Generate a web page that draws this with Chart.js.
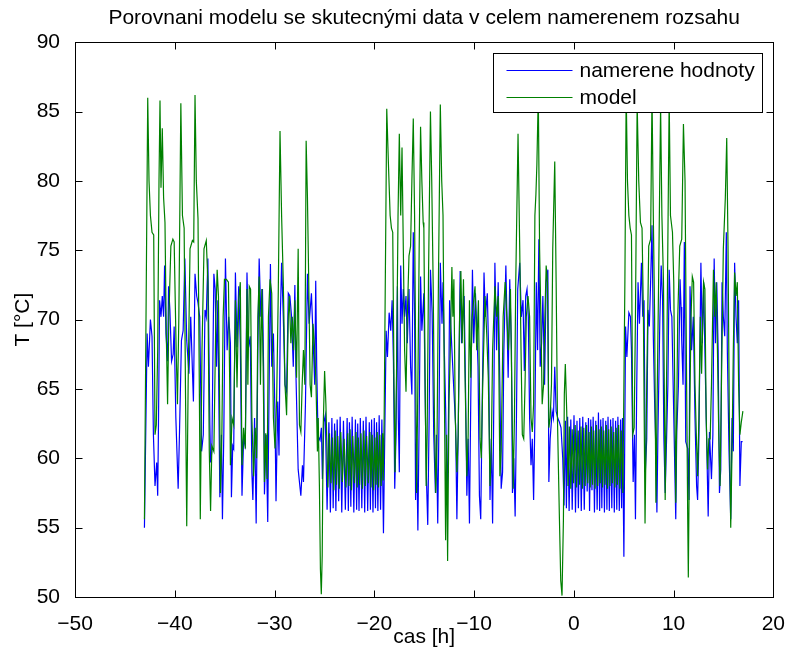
<!DOCTYPE html>
<html>
<head>
<meta charset="utf-8">
<title>Porovnani modelu</title>
<script src="https://cdn.jsdelivr.net/npm/chart.js@4.4.1/dist/chart.umd.min.js"></script>
<style>
  html, body { margin: 0; padding: 0; background: #fff; }
  #wrap { width: 792px; height: 655px; }
</style>
</head>
<body>
<div id="wrap"><canvas id="myChart" width="792" height="655"></canvas></div>
<script>
const chartTitle = "Porovnani modelu se skutecnými data v celem namerenem rozsahu";
const xLabel = "cas [h]";
const yLabel = "T [°C]";
const seriesNames = ["namerene hodnoty", "model"];

const xTicks = [-50, -40, -30, -20, -10, 0, 10, 20];
const yTicks = [50, 55, 60, 65, 70, 75, 80, 85, 90];

// measured temperature [h] / [°C]
const measuredHours = [
  -43.04, -42.77, -42.64, -42.44, -42.28, -42.14, -41.98, -41.81, -41.71, -41.65,
  -41.52, -41.38, -41.25, -41.12, -41.02, -40.88, -40.72, -40.62, -40.49, -40.32,
  -40.16, -40.06, -39.89, -39.66, -39.53, -39.33, -39.16, -38.99, -38.80, -38.58,
  -38.40, -38.13, -37.97, -37.80, -37.67, -37.50, -37.31, -37.14, -36.97, -36.84,
  -36.68, -36.48, -36.41, -36.28, -36.08, -35.95, -35.81, -35.68, -35.48, -35.32,
  -35.22, -35.08, -34.92, -34.75, -34.59, -34.42, -34.32, -34.19, -34.09, -33.92,
  -33.76, -33.59, -33.43, -33.26, -33.10, -32.93, -32.76, -32.60, -32.43, -32.27,
  -32.17, -32.00, -31.84, -31.67, -31.54, -31.37, -31.21, -31.07, -31.01, -30.84,
  -30.68, -30.54, -30.41, -30.28, -30.11, -29.95, -29.85, -29.68, -29.55, -29.42,
  -29.29, -29.12, -28.95, -28.79, -28.62, -28.46, -28.29, -28.12, -27.96, -27.86,
  -27.63, -27.36, -27.20, -27.10, -26.90, -26.70, -26.53, -26.30, -26.14, -25.97,
  -25.87, -25.77, -25.64, -25.44, -25.30, -25.20, -25.05,
  // idle period 1
  -24.91, -24.73, -24.55, -24.40, -24.25, -24.12, -23.98, -23.85,
  -23.72, -23.57, -23.42, -23.26, -23.09, -22.90, -22.72, -22.60,
  -22.49, -22.35, -22.22, -22.05, -21.89, -21.77, -21.66, -21.53,
  -21.40, -21.25, -21.10, -20.96, -20.83, -20.66, -20.50, -20.39,
  -20.27, -20.13, -20.00, -19.88, -19.77, -19.64, -19.51, -19.37,
  -19.24,
  -19.08, -18.81, -18.68, -18.51, -18.35, -18.21, -18.08, -17.95, -17.82, -17.68,
  -17.59, -17.49, -17.35, -17.22, -17.09, -16.96, -16.82, -16.69, -16.52, -16.36,
  -16.23, -16.09, -15.96, -15.86, -15.76, -15.63, -15.50, -15.36, -15.23, -15.03,
  -14.87, -14.77, -14.64, -14.50, -14.37, -14.20, -14.04, -13.87, -13.77, -13.64,
  -13.51, -13.38, -13.21, -13.11, -12.98, -12.84, -12.71, -12.58, -12.45, -12.28,
  -12.05, -11.85, -11.72, -11.59, -11.39, -11.25, -11.12, -10.99, -10.86, -10.72,
  -10.59, -10.46, -10.33, -10.16, -10.03, -9.86, -9.73, -9.60, -9.46, -9.33,
  -9.20, -9.00, -8.87, -8.67, -8.54, -8.40, -8.27, -8.14, -8.00, -7.91,
  -7.74, -7.58, -7.41, -7.28, -7.14, -7.01, -6.81, -6.58, -6.42, -6.25,
  -6.15, -6.02, -5.88, -5.75, -5.62, -5.42, -5.26, -5.09, -4.96, -4.82,
  -4.69, -4.56, -4.43, -4.29, -4.16, -4.03, -3.90, -3.76, -3.63, -3.50,
  -3.37, -3.23, -3.10, -2.93, -2.77, -2.60, -2.50, -2.37, -2.17, -2.04,
  -1.91, -1.77, -1.61, -1.44, -1.28, -1.11,
  // idle period 2
  -0.98, -0.84, -0.74, -0.62, -0.47, -0.30, -0.16, 0.02,
  0.17, 0.32, 0.46, 0.60, 0.75, 0.90, 1.05, 1.20,
  1.34, 1.47, 1.58, 1.70, 1.82, 1.94, 2.07, 2.20,
  2.34, 2.47, 2.59, 2.70, 2.81, 2.93, 3.07, 3.20,
  3.32, 3.43, 3.56, 3.69, 3.81, 3.93, 4.06, 4.19,
  4.31, 4.42, 4.56, 4.69, 4.79, 4.88,
  5.02, 5.19, 5.32, 5.52, 5.68, 5.78, 5.95, 6.08, 6.18, 6.31,
  6.44, 6.58, 6.78, 6.91, 7.04, 7.17, 7.31, 7.44, 7.57, 7.70,
  7.84, 7.97, 8.10, 8.23, 8.33, 8.43, 8.63, 8.76, 8.90, 9.03,
  9.16, 9.30, 9.43, 9.56, 9.69, 9.83, 9.96, 10.09, 10.22, 10.32,
  10.49, 10.65, 10.75, 10.82, 10.95, 11.08, 11.22, 11.42, 11.55, 11.65,
  11.81, 11.98, 12.15, 12.31, 12.41, 12.54, 12.74, 12.88, 13.01, 13.14,
  13.34, 13.47, 13.60, 13.80, 13.94, 14.07, 14.20, 14.33, 14.47, 14.60,
  14.73, 14.86, 14.99, 15.13, 15.29, 15.39, 15.56, 15.73, 15.86, 15.99,
  16.12, 16.26, 16.39, 16.52, 16.65, 16.79, 16.92
];
const measuredTemp = [
  55.0, 69.0, 66.6, 70.0, 68.8, 61.7, 58.0, 59.7, 57.3, 61.2,
  71.4, 70.2, 71.7, 70.2, 73.9, 69.0, 67.0, 72.4, 70.7, 67.0,
  67.5, 69.5, 62.9, 57.8, 61.7, 68.5, 69.2, 74.4, 68.5, 66.1,
  70.2, 64.1, 73.3, 71.7, 71.2, 70.2, 60.5, 61.7, 70.7, 70.2,
  74.4, 62.4, 59.7, 60.5, 73.3, 72.2, 66.6, 71.4, 57.2, 61.7,
  55.6, 61.9, 74.4, 67.8, 70.2, 68.3, 57.2, 60.9, 60.7, 73.4,
  68.0, 72.4, 68.3, 57.3, 61.4, 60.9, 73.4, 68.0, 68.8, 59.0,
  57.0, 62.9, 55.3, 67.8, 74.4, 70.2, 72.2, 65.3, 57.4, 61.7,
  55.4, 65.3, 74.0, 66.6, 69.0, 62.9, 56.9, 64.1, 60.2, 70.2,
  74.1, 70.2, 65.3, 64.8, 71.9, 71.7, 70.2, 66.6, 72.5, 66.3,
  59.2, 57.3, 59.5, 58.3, 63.9, 73.3, 69.7, 71.9, 68.8, 65.3,
  72.8, 66.6, 61.6, 61.3, 62.2, 58.5, 62.6,
  // idle period 1
  63.1, 56.3, 62.6, 56.1, 62.9, 56.4, 62.5, 56.2,
  62.8, 56.9, 63.0, 56.1, 62.7, 56.3, 62.9, 56.2,
  62.6, 56.5, 63.0, 56.1, 62.8, 56.3, 62.5, 56.2,
  62.9, 56.4, 62.7, 56.1, 63.0, 56.2, 62.6, 56.3,
  62.8, 56.1, 62.9, 56.4, 62.6, 56.2, 63.1, 56.3,
  62.8,
  54.6, 69.2, 67.3, 70.5, 69.2, 71.4, 67.0, 57.8, 61.7, 72.4,
  62.9, 59.0, 73.9, 69.7, 72.2, 70.2, 71.7, 68.3, 72.2, 66.6,
  64.6, 76.3, 70.2, 57.0, 61.4, 54.8, 62.9, 73.1, 69.2, 71.9,
  62.9, 58.5, 55.2, 62.9, 73.6, 70.5, 61.7, 57.5, 61.7, 55.3,
  62.9, 74.1, 69.7, 72.7, 67.8, 63.4, 57.0, 61.7, 71.4, 68.8,
  65.3, 62.4, 55.6, 61.7, 73.5, 68.3, 70.2, 71.7, 65.3, 57.3,
  61.4, 55.3, 64.1, 73.6, 68.3, 71.9, 69.5, 66.6, 57.3, 55.6,
  62.9, 73.4, 70.2, 71.9, 67.8, 57.0, 61.4, 55.3, 65.3, 74.1,
  67.8, 72.7, 65.3, 57.8, 59.0, 67.8, 73.9, 65.8, 72.9, 67.8,
  57.5, 60.0, 55.8, 62.9, 72.2, 74.1, 70.2, 71.4, 66.3, 71.7,
  72.2, 70.2, 62.9, 59.5, 61.4, 57.0, 62.9, 72.7, 67.8, 75.8,
  66.6, 68.3, 71.7, 65.3, 72.7, 73.6, 58.3, 61.4, 63.4, 62.9,
  66.6, 63.4, 62.9, 62.6, 62.2, 60.0,
  // idle period 2
  56.6, 62.7, 56.4, 63.0, 56.2, 62.8, 56.3, 63.1,
  56.1, 62.7, 56.4, 62.9, 56.2, 63.0, 56.3, 62.6,
  57.6, 62.9, 56.2, 62.8, 57.7, 63.0, 56.1, 62.7,
  56.3, 63.3, 56.2, 62.8, 56.4, 62.9, 56.1, 62.7,
  56.3, 63.0, 56.2, 62.8, 56.4, 62.9, 56.1, 62.7,
  56.3, 63.0, 56.2, 62.8, 56.4, 62.9,
  52.9, 69.5, 67.3, 70.5, 70.2, 67.8, 58.3, 61.7, 55.6, 65.3,
  72.7, 69.7, 74.1, 70.2, 71.4, 59.0, 61.4, 70.7, 69.5, 72.7,
  76.8, 68.8, 64.1, 60.5, 56.1, 61.7, 70.2, 73.9, 71.4, 61.4,
  57.5, 61.4, 65.3, 73.6, 70.7, 70.2, 65.3, 60.5, 55.6, 61.9,
  65.3, 72.9, 70.9, 68.5, 65.3, 75.6, 61.2, 60.7, 57.0, 72.4,
  67.8, 70.2, 62.9, 58.0, 57.0, 61.4, 74.1, 68.3, 72.7, 67.8,
  60.5, 55.8, 61.9, 58.5, 61.7, 74.4, 68.3, 72.7, 67.8, 57.5,
  59.2, 72.7, 70.2, 68.8, 76.3, 67.8, 60.5, 55.6, 62.9, 60.5,
  74.1, 70.2, 68.3, 71.4, 58.0, 61.2, 61.2
];

// model output [h] / [°C]
const modelHours = [
  -43.04, -42.71, -42.58, -42.44, -42.28, -42.11, -41.98, -41.85, -41.71, -41.58,
  -41.48, -41.38, -41.25, -41.12, -40.98, -40.85, -40.72, -40.59, -40.39, -40.19,
  -40.06, -39.86, -39.73, -39.59, -39.39, -39.23, -39.06, -38.93, -38.80, -38.66,
  -38.47, -38.23, -38.10, -37.97, -37.84, -37.67, -37.54, -37.44, -37.27, -37.07,
  -36.84, -36.68, -36.54, -36.41, -36.28, -36.08, -35.88, -35.75, -35.62, -35.52,
  -35.42, -35.28, -35.15, -35.02, -34.82, -34.62, -34.49, -34.42, -34.26, -34.09,
  -33.92, -33.76, -33.59, -33.43, -33.26, -33.10, -32.93, -32.76, -32.67, -32.53,
  -32.40, -32.27, -32.10, -31.94, -31.80, -31.67, -31.54, -31.41, -31.27, -31.14,
  -31.01, -30.88, -30.74, -30.61, -30.45, -30.28, -30.11, -29.95, -29.78, -29.62,
  -29.45, -29.29, -29.12, -28.95, -28.79, -28.62, -28.52, -28.36, -28.22, -28.09,
  -27.96, -27.79, -27.63, -27.50, -27.36, -27.23, -27.10, -26.96, -26.83, -26.70,
  -26.57, -26.43, -26.30, -26.14, -25.97, -25.84, -25.70, -25.62, -25.50, -25.40,
  -25.31, -25.22, -25.12, -24.98, -24.85,
  // idle period 1
  -24.65, -24.49, -24.34, -24.19, -24.06, -23.92, -23.79, -23.66,
  -23.51, -23.36, -23.20, -23.03, -22.84, -22.66, -22.54, -22.43,
  -22.29, -22.16, -21.99, -21.83, -21.71, -21.60, -21.47, -21.34,
  -21.19, -21.04, -20.90, -20.77, -20.60, -20.44, -20.33, -20.21,
  -20.07, -19.94, -19.82, -19.71, -19.58, -19.45, -19.31, -19.17,
  -19.10, -19.01,
  -18.75, -18.58, -18.41, -18.28, -18.15, -18.02, -17.92, -17.78, -17.62, -17.49,
  -17.35, -17.22, -17.09, -16.96, -16.82, -16.69, -16.52, -16.36, -16.23, -16.09,
  -15.96, -15.83, -15.76, -15.63, -15.50, -15.36, -15.23, -15.10, -15.03, -14.90,
  -14.80, -14.70, -14.57, -14.37, -14.24, -14.10, -13.97, -13.84, -13.71, -13.57,
  -13.38, -13.24, -13.11, -12.98, -12.85, -12.75, -12.65, -12.51, -12.38, -12.22,
  -12.12, -12.02, -11.88, -11.72, -11.59, -11.45, -11.32, -11.19, -11.06, -10.92,
  -10.72, -10.59, -10.46, -10.33, -10.19, -9.90, -9.73, -9.56, -9.40, -9.27,
  -9.13, -8.90, -8.73, -8.57, -8.40, -8.27, -8.14, -7.91, -7.74, -7.58,
  -7.41, -7.28, -7.08, -6.88, -6.55, -6.35, -6.22, -6.08, -5.95, -5.82,
  -5.59, -5.42, -5.29, -5.16, -5.02, -4.89, -4.76, -4.59, -4.43, -4.29,
  -4.16, -4.03, -3.90, -3.80, -3.70, -3.56, -3.43, -3.30, -3.17, -3.03,
  -2.90, -2.77, -2.64, -2.50, -2.37, -2.24, -2.11, -1.91, -1.77, -1.64,
  -1.44, -1.31, -1.18, -1.04, -0.95, -0.85, -0.71,
  // idle period 2
  -0.58, -0.45, -0.30, -0.16, -0.02, 0.14, 0.28, 0.44,
  0.58, 0.72, 0.86, 1.00, 1.14, 1.28, 1.40, 1.53,
  1.64, 1.76, 1.88, 2.00, 2.13, 2.27, 2.40, 2.53,
  2.65, 2.76, 2.88, 3.00, 3.13, 3.26, 3.38, 3.50,
  3.62, 3.75, 3.87, 4.00, 4.12, 4.25, 4.37, 4.49,
  4.62, 4.75, 4.92,
  5.12, 5.25, 5.38, 5.52, 5.65, 5.78, 5.91, 6.05, 6.18, 6.35,
  6.51, 6.68, 6.84, 6.98, 7.14, 7.31, 7.51, 7.70, 7.84, 7.97,
  8.10, 8.23, 8.33, 8.50, 8.70, 8.83, 8.99, 9.16, 9.33, 9.56,
  9.69, 9.89, 10.02, 10.22, 10.42, 10.62, 10.82, 10.99, 11.15, 11.28,
  11.42, 11.48, 11.62, 11.75, 11.88, 12.01, 12.15, 12.28, 12.41, 12.54,
  12.68, 12.81, 13.01, 13.14, 13.27, 13.41, 13.54, 13.67, 13.80, 14.00,
  14.13, 14.27, 14.40, 14.53, 14.66, 14.80, 14.99, 15.19, 15.33, 15.46,
  15.59, 15.73, 15.86, 15.99, 16.12, 16.26, 16.39, 16.52, 16.65, 16.79,
  16.95
];
const modelTemp = [
  55.6, 86.0, 80.0, 77.5, 76.3, 76.1, 61.7, 62.4, 67.8, 80.0,
  85.8, 79.5, 83.8, 78.8, 77.0, 69.0, 63.9, 70.2, 75.3, 75.8,
  75.6, 67.8, 63.9, 70.2, 85.6, 77.5, 76.6, 65.3, 55.1, 65.3,
  75.1, 75.7, 75.6, 86.2, 80.0, 77.3, 65.3, 55.6, 67.8, 75.1,
  75.7, 72.7, 60.5, 56.2, 60.9, 60.5, 70.2, 73.6, 71.7, 65.3,
  57.5, 61.7, 70.2, 72.9, 72.9, 72.7, 65.3, 59.5, 62.9, 62.4,
  71.4, 65.1, 71.4, 72.7, 59.5, 62.2, 60.7, 72.2, 65.3, 72.4,
  72.2, 62.9, 58.7, 62.2, 60.0, 70.2, 73.1, 65.3, 72.2, 66.6,
  58.3, 61.8, 58.5, 70.2, 72.9, 71.9, 62.9, 60.7, 64.4, 72.2,
  83.6, 77.5, 72.7, 65.3, 63.1, 70.2, 71.7, 68.3, 70.2, 67.8,
  71.4, 65.8, 75.1, 62.4, 61.9, 65.3, 67.8, 65.3, 82.9, 78.8,
  72.7, 65.3, 64.4, 69.7, 67.8, 65.3, 60.5, 62.9, 58.0, 52.0,
  50.2, 53.0, 62.2, 66.3, 63.9,
  // idle period 1
  57.9, 61.8, 58.2, 61.5, 57.7, 62.0, 58.1, 61.6,
  57.8, 61.9, 58.3, 61.4, 57.9, 61.8, 58.0, 62.1,
  57.7, 61.6, 58.2, 61.9, 57.9, 61.5, 58.1, 61.8,
  57.8, 62.0, 58.0, 61.6, 58.2, 61.9, 57.9, 61.7,
  57.7, 61.5, 58.1, 61.9, 57.9, 61.7, 58.0, 61.8,
  58.4, 62.9,
  85.2, 81.2, 77.5, 76.6, 76.3, 65.3, 59.0, 65.3, 77.5, 83.4,
  77.5, 82.4, 75.1, 67.8, 64.8, 70.2, 74.6, 75.3, 80.0, 84.5,
  77.5, 65.3, 57.5, 65.3, 75.1, 83.9, 80.0, 77.0, 76.6, 65.3,
  58.0, 61.7, 72.7, 85.0, 80.0, 72.7, 62.9, 57.5, 61.4, 72.7,
  85.5, 80.0, 77.5, 65.3, 54.1, 61.7, 52.6, 64.1, 67.8, 73.8,
  70.2, 72.9, 62.9, 59.0, 61.7, 70.2, 73.5, 68.3, 72.9, 66.6,
  58.7, 61.7, 71.4, 65.8, 70.2, 72.4, 67.8, 71.4, 61.4, 60.0,
  65.3, 71.7, 69.0, 65.8, 58.0, 60.5, 67.8, 72.4, 70.2, 71.7,
  58.7, 60.5, 70.2, 72.7, 67.8, 72.2, 65.3, 57.8, 62.9, 72.7,
  83.4, 75.1, 67.8, 61.7, 61.4, 65.3, 70.2, 71.7, 70.2, 62.9,
  61.9, 63.9, 77.5, 79.0, 81.2, 86.3, 75.1, 70.2, 63.9, 65.3,
  70.2, 73.9, 72.7, 62.2, 62.9, 65.3, 75.1, 81.4, 72.7, 62.9,
  55.6, 51.2, 50.1, 55.6, 64.6, 66.8, 63.4,
  // idle period 2
  58.0, 62.3, 57.8, 62.1, 58.2, 62.4, 57.9, 62.0,
  58.1, 62.3, 57.8, 62.2, 58.0, 62.4, 58.2, 61.9,
  57.9, 62.3, 58.1, 62.0, 57.8, 62.4, 58.0, 62.1,
  58.2, 62.3, 57.9, 62.0, 58.1, 62.4, 57.8, 62.1,
  58.0, 62.3, 58.2, 61.9, 57.9, 62.2, 58.1, 62.4,
  57.8, 62.0, 57.5,
  72.7, 86.4, 80.0, 77.5, 76.6, 76.1, 61.7, 62.2, 70.2, 85.6,
  80.0, 77.0, 76.6, 70.2, 55.3, 65.3, 75.3, 75.8, 86.3, 77.5,
  70.2, 56.8, 62.9, 72.7, 85.4, 77.5, 72.7, 57.0, 67.8, 86.0,
  77.5, 76.3, 72.7, 56.8, 70.2, 75.3, 75.8, 84.1, 80.0, 67.8,
  55.6, 51.4, 62.9, 70.2, 73.1, 72.7, 65.3, 61.7, 58.7, 62.9,
  70.2, 66.1, 72.7, 72.2, 62.9, 59.2, 61.4, 61.4, 65.3, 73.6,
  70.2, 72.7, 67.8, 61.7, 58.0, 65.3, 75.1, 78.8, 83.1, 75.1,
  62.9, 55.0, 60.5, 67.8, 73.4, 71.7, 72.7, 65.3, 61.7, 62.6,
  63.4
];

const fontFamily = "'Liberation Sans', Arial, Helvetica, sans-serif";
const baseFont = { family: fontFamily, size: 21, weight: "normal" };

function toPoints(hours, temps) {
  if (hours.length !== temps.length) {
    console.error("length mismatch", hours.length, temps.length);
  }
  return hours.map((h, i) => ({ x: h, y: temps[i] }));
}

// real minus sign like in the original figure
function tickText(value) {
  return value < 0 ? "\u2212" + Math.abs(value) : String(value);
}

// axes box with inward tick marks on all four sides
const axesBox = {
  id: "axesBox",
  afterDatasetsDraw(chart) {
    const { ctx, chartArea, scales } = chart;
    const left = Math.round(chartArea.left) + 0.5;
    const right = Math.round(chartArea.right) + 0.5;
    const top = Math.round(chartArea.top) + 0.5;
    const bottom = Math.round(chartArea.bottom) + 0.5;
    const len = 7;
    ctx.save();
    ctx.strokeStyle = "#000";
    ctx.lineWidth = 1;
    ctx.strokeRect(left, top, right - left, bottom - top);
    ctx.beginPath();
    xTicks.forEach((v) => {
      const px = Math.round(scales.x.getPixelForValue(v)) + 0.5;
      ctx.moveTo(px, bottom);
      ctx.lineTo(px, bottom - len);
      ctx.moveTo(px, top);
      ctx.lineTo(px, top + len);
    });
    yTicks.forEach((v) => {
      const py = Math.round(scales.y.getPixelForValue(v)) + 0.5;
      ctx.moveTo(left, py);
      ctx.lineTo(left + len, py);
      ctx.moveTo(right, py);
      ctx.lineTo(right - len, py);
    });
    ctx.stroke();
    ctx.restore();
  }
};

// legend box in the upper right corner of the plot
const cornerLegend = {
  id: "cornerLegend",
  afterDraw(chart) {
    const { ctx, chartArea } = chart;
    const sets = chart.data.datasets;
    ctx.save();
    ctx.font = "21px " + fontFamily;
    let textW = 0;
    sets.forEach((ds) => {
      textW = Math.max(textW, ctx.measureText(ds.label).width);
    });
    const boxW = Math.round(13 + 66 + 7 + textW + 8);
    const boxH = 59;
    const x0 = Math.round(chartArea.right) - 11 - boxW + 0.5;
    const y0 = Math.round(chartArea.top) + 11 + 0.5;
    ctx.fillStyle = "#fff";
    ctx.fillRect(x0, y0, boxW, boxH);
    ctx.strokeStyle = "#000";
    ctx.lineWidth = 1;
    ctx.strokeRect(x0, y0, boxW, boxH);
    // blue row first, then green
    const rows = [sets[1], sets[0]];
    rows.forEach((ds, i) => {
      const y = Math.round(y0 + 16 + i * 27.5) + 0.5;
      ctx.strokeStyle = ds.borderColor;
      ctx.beginPath();
      ctx.moveTo(x0 + 13, y);
      ctx.lineTo(x0 + 79, y);
      ctx.stroke();
      ctx.fillStyle = "#000";
      ctx.textBaseline = "middle";
      ctx.textAlign = "left";
      ctx.fillText(ds.label, x0 + 86, y + 1);
    });
    ctx.restore();
  }
};

const ctx = document.getElementById("myChart").getContext("2d");

new Chart(ctx, {
  type: "line",
  data: {
    datasets: [
      {
        label: seriesNames[1],
        data: toPoints(modelHours, modelTemp),
        borderColor: "#008000",
        borderWidth: 1.2,
        pointRadius: 0,
        tension: 0,
        order: 1
      },
      {
        label: seriesNames[0],
        data: toPoints(measuredHours, measuredTemp),
        borderColor: "#0000ff",
        borderWidth: 1.2,
        pointRadius: 0,
        tension: 0,
        order: 2
      }
    ]
  },
  options: {
    responsive: false,
    animation: false,
    events: [],
    layout: { padding: { left: 0, right: 13, top: 0, bottom: 0 } },
    plugins: {
      legend: { display: false },
      tooltip: { enabled: false },
      title: {
        display: true,
        text: chartTitle,
        color: "#000",
        font: baseFont,
        fullSize: false,
        padding: { top: 6, bottom: 11 }
      }
    },
    scales: {
      x: {
        type: "linear",
        min: xTicks[0],
        max: xTicks[xTicks.length - 1],
        afterBuildTicks: (scale) => {
          scale.ticks = xTicks.map((v) => ({ value: v }));
        },
        ticks: { color: "#000", font: baseFont, padding: 7, maxRotation: 0, callback: tickText },
        grid: { display: false },
        border: { display: false },
        title: { display: true, text: xLabel, color: "#000", font: baseFont, padding: { top: 0, bottom: 5 } },
        afterFit: (scale) => {
          scale.height = 58;
        }
      },
      y: {
        type: "linear",
        min: yTicks[0],
        max: yTicks[yTicks.length - 1],
        afterBuildTicks: (scale) => {
          scale.ticks = yTicks.map((v) => ({ value: v }));
        },
        ticks: { color: "#000", font: baseFont, padding: 7, callback: tickText },
        grid: { display: false },
        border: { display: false },
        title: { display: true, text: yLabel, color: "#000", font: baseFont, padding: { top: 11, bottom: 0 } },
        afterFit: (scale) => {
          scale.width = 75;
        }
      }
    }
  },
  plugins: [axesBox, cornerLegend]
});
</script>
</body>
</html>
